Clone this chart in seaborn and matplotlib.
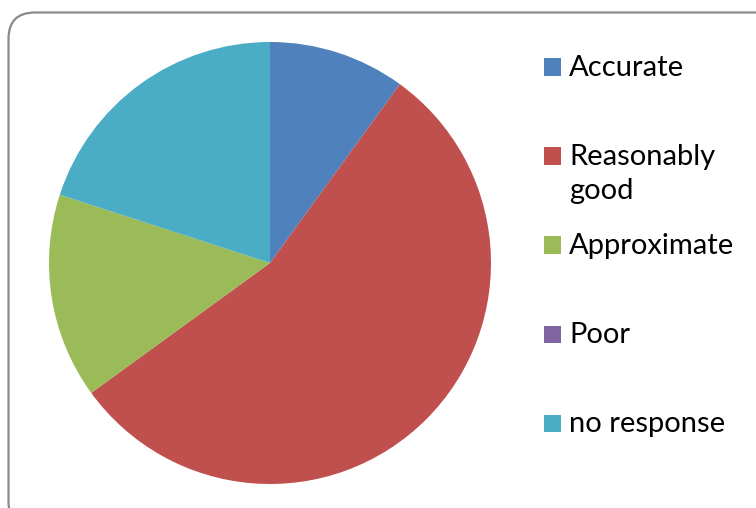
import matplotlib
matplotlib.use("Agg")
import matplotlib.pyplot as plt
from matplotlib.patches import FancyBboxPatch, Rectangle
import seaborn as sns

# Survey answers (counts per category)
categories = ["Accurate", "Reasonably\ngood", "Approximate", "Poor", "no response"]
counts = [2, 11, 3, 0, 4]
colors = ["#4F81BD", "#C0504D", "#9BBB59", "#8064A2", "#4BACC6"]

sns.set_theme(style="white")
plt.rcParams["font.family"] = ["Lato", "DejaVu Sans"]

W, H = 756, 508
fig = plt.figure(figsize=(W / 100, H / 100), dpi=100)
fig.patch.set_facecolor("white")

# Rounded frame around the chart area
frame = FancyBboxPatch((8.5 / W, -20 / H), (W + 40) / W, (H - 12.5 + 20) / H,
                       boxstyle="round,pad=0,rounding_size=0.035",
                       transform=fig.transFigure, fill=False,
                       edgecolor="#8a8a8a", linewidth=1.6,
                       mutation_aspect=W / H)
fig.patches.append(frame)

# Pie axes: centre (270, 263) px, radius 221 px
cx, cy, r = 270, 263, 221
ax = fig.add_axes([(cx - r) / W, (H - cy - r) / H, 2 * r / W, 2 * r / H])
ax.pie(counts, colors=colors, startangle=90, counterclock=False,
       radius=1.0, wedgeprops=dict(linewidth=0))
ax.set_xlim(-1, 1)
ax.set_ylim(-1, 1)
ax.set_aspect("equal")
ax.axis("off")

# Legend on the right
slot_y = [67, 156, 245, 334, 423]
box = 17
for label, color, y in zip(categories, colors, slot_y):
    fig.patches.append(Rectangle(((544) / W, (H - y - box / 2) / H), box / W, box / H,
                                 transform=fig.transFigure, facecolor=color,
                                 edgecolor="none"))
    for i, line in enumerate(label.split("\n")):
        fig.text(569 / W, (H - y - 1 - i * 34) / H, line, fontsize=21,
                 color="black", va="center", ha="left")

fig.savefig("out.png", dpi=100)
